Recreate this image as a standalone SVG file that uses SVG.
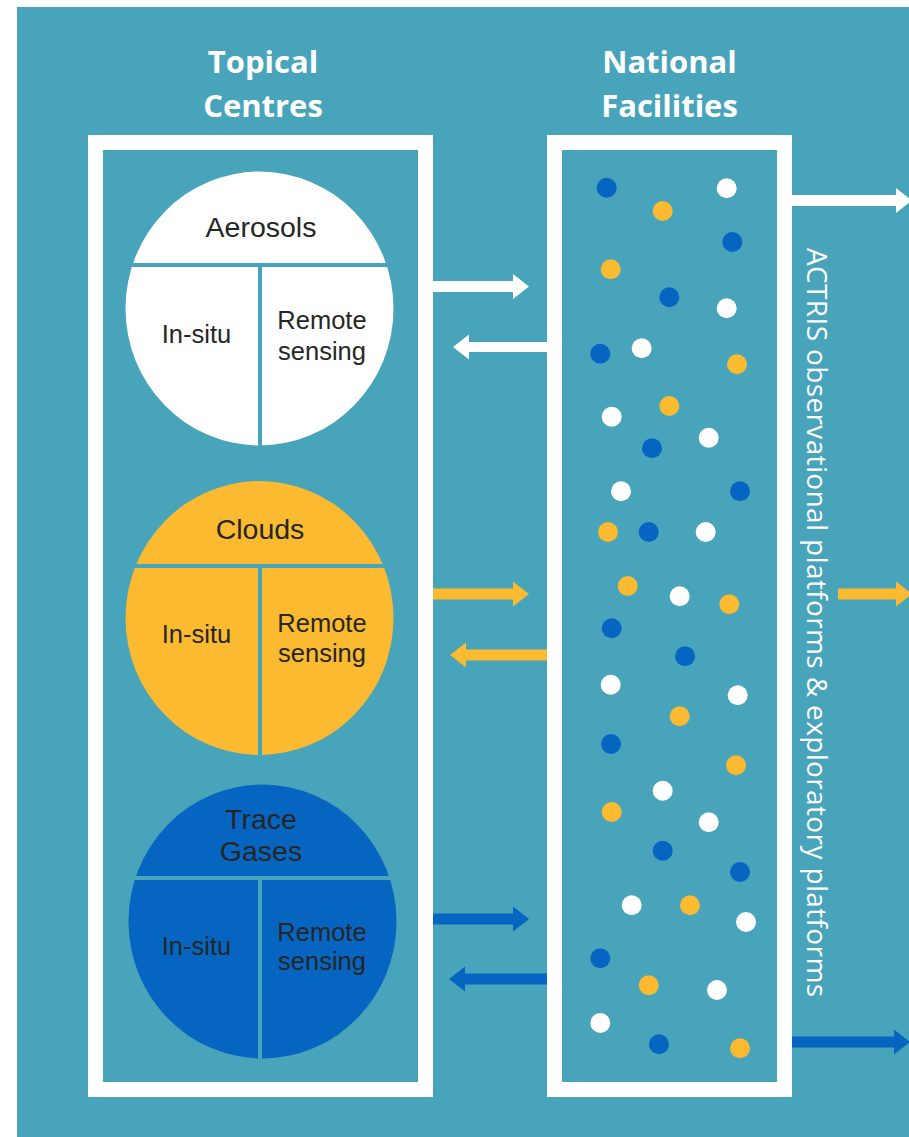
<svg xmlns="http://www.w3.org/2000/svg" width="909" height="1137" viewBox="0 0 909 1137">
<style>
.bg{fill:#47A4BB}
.frame{fill:#47A4BB;stroke:#FFFFFF;stroke-width:15}
.hdr{font-family:"Open Sans","Liberation Sans",sans-serif;font-weight:700;font-size:31px;fill:#FFFFFF;text-anchor:middle}
.topic{font-family:"Liberation Sans",Arial,sans-serif;font-size:28.5px;fill:#262626;text-anchor:middle}
.sub{font-family:"Liberation Sans",Arial,sans-serif;font-size:25.5px;fill:#262626;text-anchor:middle}
.div{stroke:#47A4BB;stroke-width:4}
.w{fill:#FFFFFF}
.y{fill:#FBBA30}
.b{fill:#0565C1}
.vt{font-family:"Open Sans","Liberation Sans",sans-serif;font-size:28px;fill:#FFFFFF}
</style>
<rect x="0" y="0" width="909" height="1137" fill="#FFFFFF"/>
<rect class="bg" x="17" y="7" width="892" height="1130"/>

<g id="topical-centres">
<rect class="frame" x="95.5" y="142.5" width="330" height="947"/>
<text class="hdr" x="263" y="73">Topical</text>
<text class="hdr" x="263" y="117">Centres</text>
</g>

<g id="national-facilities">
<rect class="frame" x="554.5" y="142.5" width="230" height="947"/>
<text class="hdr" x="669.5" y="73">National</text>
<text class="hdr" x="669.5" y="117">Facilities</text>
<g id="dots">
<circle class="b" cx="606.7" cy="187.7" r="10"/>
<circle class="w" cx="726.7" cy="188.3" r="10"/>
<circle class="y" cx="662.7" cy="211" r="10"/>
<circle class="b" cx="732.3" cy="242" r="10"/>
<circle class="y" cx="610.7" cy="269.3" r="10"/>
<circle class="b" cx="669.3" cy="297.3" r="10"/>
<circle class="w" cx="726.7" cy="308.3" r="10"/>
<circle class="b" cx="600.3" cy="353.7" r="10"/>
<circle class="w" cx="641.7" cy="348.3" r="10"/>
<circle class="y" cx="737" cy="364.3" r="10"/>
<circle class="y" cx="669.3" cy="406" r="10"/>
<circle class="w" cx="611.7" cy="416.7" r="10"/>
<circle class="w" cx="708.7" cy="437.7" r="10"/>
<circle class="b" cx="652" cy="448.3" r="10"/>
<circle class="w" cx="621" cy="491.3" r="10"/>
<circle class="b" cx="740" cy="491.3" r="10"/>
<circle class="y" cx="608" cy="532" r="10"/>
<circle class="b" cx="648.7" cy="532" r="10"/>
<circle class="w" cx="705.7" cy="532" r="10"/>
<circle class="y" cx="627.7" cy="586" r="10"/>
<circle class="w" cx="679.7" cy="596.3" r="10"/>
<circle class="y" cx="729.3" cy="604.3" r="10"/>
<circle class="b" cx="611.7" cy="628.3" r="10"/>
<circle class="b" cx="685" cy="656.3" r="10"/>
<circle class="w" cx="610.7" cy="684.7" r="10"/>
<circle class="w" cx="737.7" cy="695.3" r="10"/>
<circle class="y" cx="679.7" cy="716.3" r="10"/>
<circle class="b" cx="611" cy="744" r="10"/>
<circle class="y" cx="736" cy="765.3" r="10"/>
<circle class="w" cx="662.7" cy="790.7" r="10"/>
<circle class="y" cx="611.7" cy="812" r="10"/>
<circle class="w" cx="708.7" cy="822.3" r="10"/>
<circle class="b" cx="662.7" cy="850.7" r="10"/>
<circle class="b" cx="740" cy="872" r="10"/>
<circle class="w" cx="631.7" cy="905.3" r="10"/>
<circle class="y" cx="690" cy="905.3" r="10"/>
<circle class="w" cx="746" cy="922" r="10"/>
<circle class="b" cx="600.3" cy="958.3" r="10"/>
<circle class="y" cx="648.7" cy="985.3" r="10"/>
<circle class="w" cx="717" cy="990" r="10"/>
<circle class="w" cx="600.3" cy="1023" r="10"/>
<circle class="b" cx="659" cy="1044.3" r="10"/>
<circle class="y" cx="740" cy="1048.3" r="10"/>
</g>
</g>

<g id="aerosols">
<ellipse class="w" cx="259.5" cy="308.5" rx="134" ry="137"/>
<line class="div" x1="120" y1="265" x2="400" y2="265"/>
<line class="div" x1="260" y1="265" x2="260" y2="450"/>
<text class="topic" x="261" y="237">Aerosols</text>
<text class="sub" x="196.5" y="343">In-situ</text>
<text class="sub" x="322" y="329">Remote</text>
<text class="sub" x="322" y="360">sensing</text>
</g>

<g id="clouds">
<ellipse class="y" cx="259.5" cy="618" rx="134" ry="137"/>
<line class="div" x1="120" y1="566" x2="400" y2="566"/>
<line class="div" x1="260" y1="566" x2="260" y2="760"/>
<text class="topic" x="260" y="539">Clouds</text>
<text class="sub" x="196.5" y="643">In-situ</text>
<text class="sub" x="322" y="632">Remote</text>
<text class="sub" x="322" y="662">sensing</text>
</g>

<g id="trace-gases">
<ellipse class="b" cx="262.5" cy="921.5" rx="134" ry="137"/>
<line class="div" x1="120" y1="878" x2="405" y2="878"/>
<line class="div" x1="260" y1="878" x2="260" y2="1062"/>
<text class="topic" x="261" y="829">Trace</text>
<text class="topic" x="261" y="861">Gases</text>
<text class="sub" x="196.5" y="955">In-situ</text>
<text class="sub" x="322" y="941">Remote</text>
<text class="sub" x="322" y="970">sensing</text>
</g>

<g id="platforms-label">
<text class="vt" transform="translate(807,248) rotate(90)" textLength="749" lengthAdjust="spacing">ACTRIS observational platforms &amp; exploratory platforms</text>
</g>

<g id="connectors">
<path class="w" d="M433,281 H513 V274 L529,286.5 L513,299 V292 H433 Z"/>
<path class="w" d="M547,342 H469 V334.5 L453,347 L469,359.5 V352 H547 Z"/>
<path class="y" d="M433,588.5 H513 V581.5 L529,594 L513,606.5 V599.5 H433 Z"/>
<path class="y" d="M547,649.5 H466 V642.5 L450,655 L466,667.5 V660.5 H547 Z"/>
<path class="b" d="M433,913.5 H513 V906.5 L529,919 L513,931.5 V924.5 H433 Z"/>
<path class="b" d="M547,973.5 H465 V966.5 L449,979 L465,991.5 V984.5 H547 Z"/>
<path class="w" d="M792,195 H896 V188 L912,200.5 L896,213 V206 H792 Z"/>
<path class="y" d="M838,588.5 H896 V581.5 L912,594 L896,606.5 V599.5 H838 Z"/>
<path class="b" d="M792,1036.5 H894 V1029.5 L910,1042 L894,1054.5 V1047.5 H792 Z"/>
</g>
</svg>
